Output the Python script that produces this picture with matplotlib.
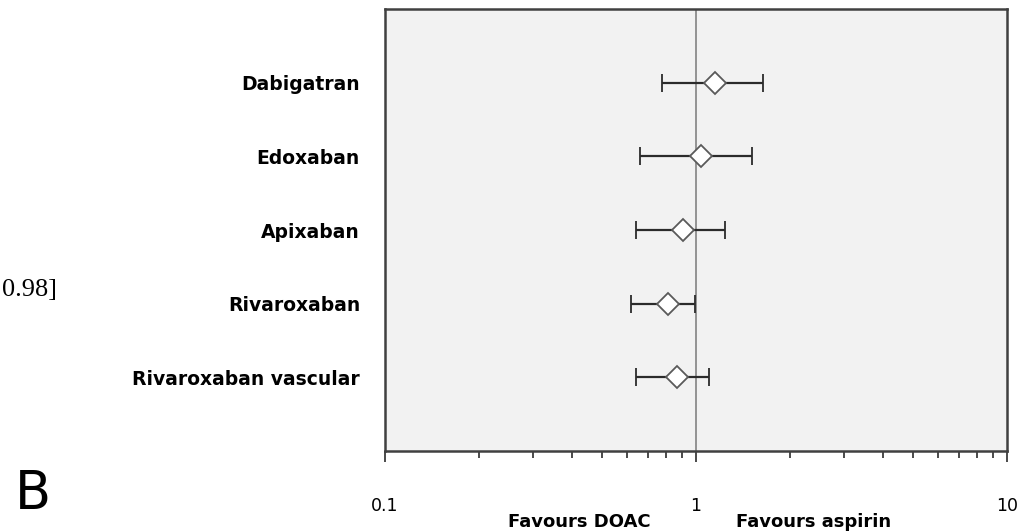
import numpy as np
import matplotlib
matplotlib.use('Agg')
import matplotlib.pyplot as plt
from matplotlib.ticker import LogLocator, NullFormatter, FixedLocator

## forest plot data (odds ratio, lower and upper 95% CI)
drugs = ['Dabigatran', 'Edoxaban', 'Apixaban', 'Rivaroxaban', 'Rivaroxaban vascular']
point = [1.15, 1.04, 0.91, 0.81, 0.87]
lower = [0.78, 0.66, 0.64, 0.62, 0.64]
upper = [1.64, 1.51, 1.24, 0.99, 1.10]
xticks = [0.1, 1, 10]
xlabels = ['0.1', '1', '10']

fig = plt.figure(figsize=(10.25, 5.32), dpi=100)
ax = fig.add_axes([385 / 1025., 81 / 532., 622 / 1025., 442 / 532.])
ax.set_facecolor('#f2f2f2')

ypos = np.arange(len(drugs), 0, -1)
pt = np.array(point)
err = [pt - np.array(lower), np.array(upper) - pt]

ax.axvline(1, color='#8c8c8c', lw=1.3, zorder=1)
ax.errorbar(pt, ypos, xerr=err, fmt='D', ms=11, mfc='white', mec='#5a5a5a',
            mew=1.3, ecolor='#2b2b2b', elinewidth=1.6, capsize=6.5, capthick=1.6,
            zorder=3)

ax.set_xscale('log')
ax.set_xlim(0.1, 10)
ax.set_ylim(0, len(drugs) + 1)

ax.xaxis.set_major_locator(FixedLocator(xticks))
ax.set_xticklabels(xlabels)
ax.xaxis.set_minor_locator(LogLocator(base=10, subs=np.arange(2, 10)))
ax.xaxis.set_minor_formatter(NullFormatter())
ax.tick_params(axis='x', which='major', direction='out', length=8, width=1.2,
               color='#2b2b2b', pad=25, labelsize=12.5)
ax.tick_params(axis='x', which='minor', direction='out', length=5, width=1.2,
               color='#2b2b2b')

ax.set_yticks(ypos)
ax.set_yticklabels(drugs, fontweight='bold', fontsize=13.5)
ax.tick_params(axis='y', length=0, pad=18)

for s in ax.spines.values():
    s.set_color('#404040')
    s.set_linewidth(1.8)

fig.text(579 / 1025., 5 / 532., 'Favours DOAC', ha='center', va='baseline',
         fontsize=13, fontweight='bold')
fig.text(814 / 1025., 5 / 532., 'Favours aspirin', ha='center', va='baseline',
         fontsize=13, fontweight='bold')

fig.text(15 / 1025., 23 / 532., 'B', ha='left', va='baseline', fontsize=38)
fig.text(57 / 1025., 242 / 532., '0.98]', ha='right', va='center', fontsize=19,
         family='Liberation Serif')

fig.savefig('out.png', dpi=100)
